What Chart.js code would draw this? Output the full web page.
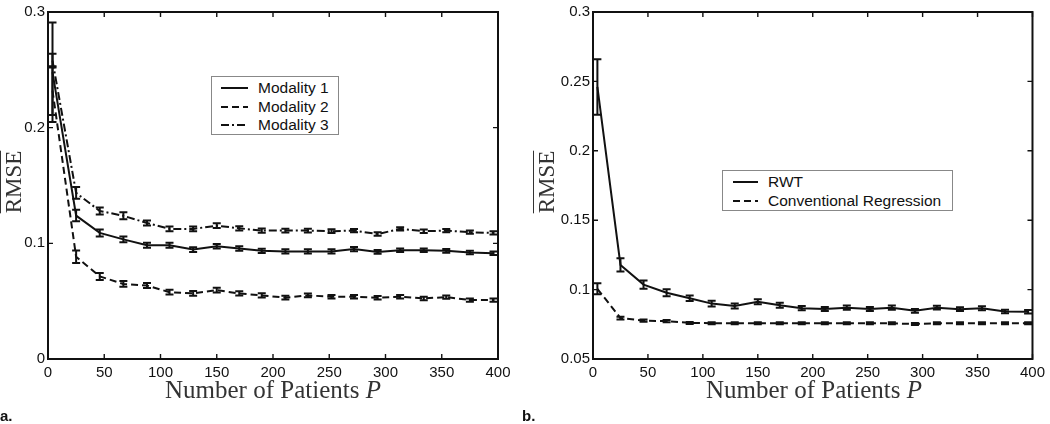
<!DOCTYPE html>
<html>
<head>
<meta charset="utf-8">
<script src="https://cdn.jsdelivr.net/npm/chart.js@4.4.0/dist/chart.umd.min.js"></script>
<style>
  body { margin: 0; background: #fff; width: 1050px; height: 424px; position: relative; overflow: hidden; font-family: 'Liberation Sans', Arial, sans-serif; }
  .panel { position: absolute; top: 0; }
  .xtitle { position: absolute; font-family: 'Liberation Serif', serif; font-size: 25px; color: #333; text-align: center; white-space: nowrap; }
  .ytitle { position: absolute; font-family: 'Liberation Serif', serif; font-size: 23px; color: #333; text-decoration: overline; text-decoration-thickness: 1px; white-space: nowrap; transform: translate(-50%, -50%) rotate(-90deg); }
  .legend { position: absolute; border: 1px solid #888; background: #fff; font-size: 15.5px; color: #111; box-sizing: border-box; }
  .legend-row { display: flex; align-items: center; height: 18.5px; }
  .legend-row svg { flex: none; }
  .tag { position: absolute; font-weight: bold; font-size: 15px; color: #111; }
</style>
</head>
<body>
<canvas id="chartA" class="panel" width="520" height="424" style="left:0"></canvas>
<canvas id="chartB" class="panel" width="530" height="424" style="left:520px"></canvas>

<div class="xtitle" style="left:48px; width:450px; top:376px">Number of Patients <i>P</i></div>
<div class="xtitle" style="left:593px; width:442px; top:376px">Number of Patients <i>P</i></div>
<div class="ytitle" style="left:14px; top:182px">RMSE</div>
<div class="ytitle" style="left:547px; top:182px">RMSE</div>
<div class="tag" style="left:0; top:407px">a.</div>
<div class="tag" style="left:522px; top:407px">b.</div>

<div id="legendA" class="legend" style="left:211px; top:76px; width:128px; height:59px; padding:2px 0 0 9px"></div>
<div id="legendB" class="legend" style="left:722px; top:170px; width:231px; height:41px; padding:2px 0 0 10px"></div>

<script>
// number of patients P (x positions shared by every series)
const patients = [4, 25, 46, 67, 88, 108, 129, 150, 170, 190, 211, 231, 252, 272, 293, 313, 334, 354, 375, 396];

// panel a: RMSE for the three modalities, with error bar half-heights
const mod1 = [0.248, 0.124, 0.109, 0.1034, 0.0983, 0.0983, 0.0946, 0.0975, 0.0955, 0.0935, 0.093, 0.093, 0.093, 0.095, 0.0926, 0.094, 0.094, 0.0935, 0.092, 0.0915];
const mod1Err = [0.043, 0.005, 0.003, 0.0025, 0.0022, 0.0022, 0.002, 0.002, 0.002, 0.0018, 0.0018, 0.0018, 0.0018, 0.0018, 0.0016, 0.0016, 0.0016, 0.0016, 0.0015, 0.0015];
const mod2 = [0.232, 0.0884, 0.0714, 0.0649, 0.0635, 0.0578, 0.0567, 0.0595, 0.0567, 0.055, 0.053, 0.055, 0.0538, 0.0538, 0.053, 0.0538, 0.0524, 0.0535, 0.051, 0.051];
const mod2Err = [0.021, 0.0055, 0.003, 0.0025, 0.0022, 0.002, 0.002, 0.002, 0.0018, 0.0018, 0.0016, 0.0016, 0.0016, 0.0015, 0.0015, 0.0015, 0.0015, 0.0015, 0.0014, 0.0014];
const mod3 = [0.258, 0.1436, 0.128, 0.1238, 0.1176, 0.1125, 0.1125, 0.1153, 0.113, 0.111, 0.111, 0.111, 0.1105, 0.111, 0.108, 0.1125, 0.1105, 0.111, 0.1096, 0.109];
const mod3Err = [0.006, 0.005, 0.003, 0.003, 0.0022, 0.002, 0.002, 0.002, 0.0018, 0.0018, 0.0016, 0.0016, 0.0016, 0.0015, 0.0015, 0.0015, 0.0015, 0.0015, 0.0014, 0.0014];

// panel b: RWT vs conventional regression
const rwt = [0.246, 0.1178, 0.1036, 0.0977, 0.0937, 0.0899, 0.0882, 0.0913, 0.0887, 0.0866, 0.086, 0.087, 0.086, 0.087, 0.0847, 0.087, 0.0859, 0.0866, 0.0842, 0.084];
const rwtErr = [0.02, 0.0047, 0.003, 0.0025, 0.002, 0.002, 0.0018, 0.0018, 0.0018, 0.0015, 0.0015, 0.0015, 0.0015, 0.0015, 0.0014, 0.0014, 0.0014, 0.0014, 0.0013, 0.0013];
const conv = [0.1006, 0.0795, 0.0776, 0.0773, 0.076, 0.0758, 0.0758, 0.0757, 0.0757, 0.0757, 0.0757, 0.0757, 0.0757, 0.0757, 0.0752, 0.0757, 0.0757, 0.0757, 0.0757, 0.0757];
const convErr = [0.004, 0.001, 0.0008, 0.0008, 0.0007, 0.0007, 0.0007, 0.0007, 0.0007, 0.0007, 0.0007, 0.0007, 0.0007, 0.0007, 0.0007, 0.0007, 0.0007, 0.0007, 0.0007, 0.0007];

// axis ticks
const xTicks = { min: 0, max: 400, step: 50 };
const yTicksA = { min: 0, max: 0.3, step: 0.1 };
const yTicksB = { min: 0.05, max: 0.3, step: 0.05 };

const ink = '#111';
const dashed = [7, 4];
const dashDot = [8, 3, 2, 3];

/// Method: ToPoints
/// Purpose: pairs the patient counts with one series of values
const ToPoints = (values) => patients.map((p, i) => ({ x: p, y: values[i] }));

/// Method: MakeSeries
/// Purpose: builds one line dataset, keeping its error bars alongside
const MakeSeries = (label, values, errors, dash) => ({
  label: label,
  data: ToPoints(values),
  errors: errors,
  borderColor: ink,
  borderWidth: 2,
  borderDash: dash,
  pointRadius: 0,
  fill: false,
  tension: 0,
});

// draws the vertical error bars with little caps on every point
const errorBarPlugin = {
  id: 'errorBars',
  afterDatasetsDraw(chart) {
    const ctx = chart.ctx;
    const yScale = chart.scales.y;
    ctx.save();
    ctx.strokeStyle = ink;
    ctx.lineWidth = 2;
    ctx.setLineDash([]);
    chart.data.datasets.forEach((ds, d) => {
      const meta = chart.getDatasetMeta(d);
      meta.data.forEach((pt, i) => {
        const v = ds.data[i].y;
        const e = ds.errors[i];
        const top = yScale.getPixelForValue(v + e);
        const bot = yScale.getPixelForValue(v - e);
        ctx.beginPath();
        ctx.moveTo(pt.x, top);
        ctx.lineTo(pt.x, bot);
        ctx.moveTo(pt.x - 4, top);
        ctx.lineTo(pt.x + 4, top);
        ctx.moveTo(pt.x - 4, bot);
        ctx.lineTo(pt.x + 4, bot);
        ctx.stroke();
      });
    });
    ctx.restore();
  },
};

// boxed axes with inward ticks on all four sides, matlab style
const boxPlugin = {
  id: 'box',
  afterDraw(chart) {
    const { ctx, chartArea: a, scales } = chart;
    const len = 5;
    ctx.save();
    ctx.strokeStyle = ink;
    ctx.setLineDash([]);
    ctx.lineWidth = 1.4;
    ctx.beginPath();
    scales.x.ticks.forEach((t) => {
      const px = scales.x.getPixelForValue(t.value);
      ctx.moveTo(px, a.bottom);
      ctx.lineTo(px, a.bottom - len);
      ctx.moveTo(px, a.top);
      ctx.lineTo(px, a.top + len);
    });
    scales.y.ticks.forEach((t) => {
      const py = scales.y.getPixelForValue(t.value);
      ctx.moveTo(a.left, py);
      ctx.lineTo(a.left + len, py);
      ctx.moveTo(a.right, py);
      ctx.lineTo(a.right - len, py);
    });
    ctx.stroke();
    ctx.lineWidth = 2;
    ctx.strokeRect(a.left, a.top, a.right - a.left, a.bottom - a.top);
    ctx.restore();
  },
};

/// Method: TickLabel
/// Purpose: short number labels like 0.05, 0.1, 0.15
const TickLabel = (v) => String(+Number(v).toFixed(2));

/// Method: RenderPanel
/// Purpose: draws one panel with its axes sized so the plot box lands where the figure has it
function RenderPanel(canvasId, datasets, yTicks, yWidth, padRight) {
  const tickFont = { family: "'Liberation Sans', Arial, sans-serif", size: 15 };
  return new Chart(document.getElementById(canvasId), {
    type: 'line',
    data: { datasets: datasets },
    options: {
      responsive: false,
      animation: false,
      devicePixelRatio: 1,
      layout: { padding: { top: 6, right: padRight, left: 0, bottom: 0 } },
      plugins: { legend: { display: false }, tooltip: { enabled: false } },
      scales: {
        x: {
          type: 'linear',
          min: xTicks.min,
          max: xTicks.max,
          grid: { display: false, drawTicks: false },
          border: { display: false },
          ticks: { stepSize: xTicks.step, color: ink, font: tickFont, padding: 5, maxRotation: 0, autoSkip: false },
          afterFit: (s) => { s.height = 65; },
        },
        y: {
          min: yTicks.min,
          max: yTicks.max,
          grid: { display: false, drawTicks: false },
          border: { display: false },
          ticks: { stepSize: yTicks.step, color: ink, font: tickFont, padding: 3, callback: TickLabel },
          afterFit: (s) => { s.width = yWidth; },
        },
      },
    },
    plugins: [errorBarPlugin, boxPlugin],
  });
}

/// Method: RenderLegend
/// Purpose: html legend box with line samples taken from each dataset's dash
function RenderLegend(boxId, chart, sampleWidth, gap) {
  const box = document.getElementById(boxId);
  chart.data.datasets.forEach((ds) => {
    const row = document.createElement('div');
    row.className = 'legend-row';
    const dash = ds.borderDash && ds.borderDash.length ? ds.borderDash.join(' ') : 'none';
    row.innerHTML =
      `<svg width="${sampleWidth}" height="6"><line x1="0" y1="3" x2="${sampleWidth}" y2="3" stroke="${ink}" stroke-width="2" stroke-dasharray="${dash}"/></svg>` +
      `<span style="margin-left:${gap}px">${ds.label}</span>`;
    box.appendChild(row);
  });
}

const chartA = RenderPanel('chartA', [
  MakeSeries('Modality 1', mod1, mod1Err, []),
  MakeSeries('Modality 2', mod2, mod2Err, dashed),
  MakeSeries('Modality 3', mod3, mod3Err, dashDot),
], yTicksA, 48, 22);

const chartB = RenderPanel('chartB', [
  MakeSeries('RWT', rwt, rwtErr, []),
  MakeSeries('Conventional Regression', conv, convErr, dashed),
], yTicksB, 73, 15);

RenderLegend('legendA', chartA, 27, 10);
RenderLegend('legendB', chartB, 25, 10);
</script>
</body>
</html>
